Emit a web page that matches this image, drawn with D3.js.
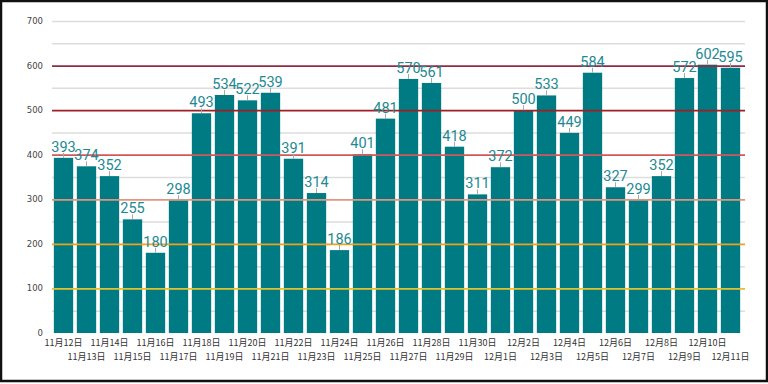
<!DOCTYPE html>
<html>
<head>
<meta charset="utf-8">
<script src="https://cdn.jsdelivr.net/npm/d3@7"></script>
<style>
  body { margin: 0; background: #fff; }
  svg { display: block; }
</style>
</head>
<body>
<script>
// daily counts, 11/12 - 12/11
var dates = ['11月12日','11月13日','11月14日','11月15日','11月16日','11月17日','11月18日','11月19日','11月20日','11月21日',
             '11月22日','11月23日','11月24日','11月25日','11月26日','11月27日','11月28日','11月29日','11月30日','12月1日',
             '12月2日','12月3日','12月4日','12月5日','12月6日','12月7日','12月8日','12月9日','12月10日','12月11日'];
var counts = [393, 374, 352, 255, 180, 298, 493, 534, 522, 539,
              391, 314, 186, 401, 481, 570, 561, 418, 311, 372,
              500, 533, 449, 584, 327, 299, 352, 572, 602, 595];
var yTicks = [0, 100, 200, 300, 400, 500, 600, 700];
var minorTicks = [50, 150, 250, 350, 450, 550, 650, 700];
// coloured reference lines
var refLines = [100, 200, 300, 400, 500, 600];
var refColors = ['#e3c22e', '#f0a21c', '#e3947e', '#d0585a', '#a01f24', '#8e2c45'];

var W = 768, H = 384;
var margin = { left: 52, right: 26, top: 21, bottom: 51 };

var svg = d3.select('body').append('svg').attr('width', W).attr('height', H);

var x = d3.scaleBand().domain(dates).range([margin.left, W - margin.right]).paddingInner(0.16).paddingOuter(0.08);
var y = d3.scaleLinear().domain([0, 700]).range([H - margin.bottom, margin.top]);

// light gridlines behind the bars
svg.append('g').selectAll('line').data(minorTicks).enter().append('line')
  .attr('x1', margin.left).attr('x2', W - 23)
  .attr('y1', function(d) { return y(d) + 0.5; })
  .attr('y2', function(d) { return y(d) + 0.5; })
  .attr('stroke', '#dddddd').attr('stroke-width', 1.5);

// bars
svg.append('g').selectAll('rect').data(counts).enter().append('rect')
  .attr('x', function(d, i) { return x(dates[i]); })
  .attr('width', x.bandwidth())
  .attr('y', function(d) { return y(d); })
  .attr('height', function(d) { return y(0) - y(d); })
  .attr('fill', '#007b84');

// coloured lines drawn over the bars
svg.append('g').selectAll('line').data(refLines).enter().append('line')
  .attr('x1', margin.left).attr('x2', W - 23)
  .attr('y1', function(d) { return y(d) + 0.5; })
  .attr('y2', function(d) { return y(d) + 0.5; })
  .attr('stroke', function(d, i) { return refColors[i]; }).attr('stroke-width', 1.8);

// value labels with small leader ticks
var lab = svg.append('g');
counts.forEach(function(d, i) {
  var cx = x(dates[i]) + x.bandwidth() / 2;
  lab.append('line')
    .attr('x1', cx).attr('x2', cx)
    .attr('y1', y(d) - 5).attr('y2', y(d))
    .attr('stroke', '#aaaaaa').attr('stroke-width', 1);
  lab.append('text')
    .attr('x', cx).attr('y', y(d) - 6)
    .attr('text-anchor', 'middle')
    .attr('font-family', 'Roboto, sans-serif')
    .attr('font-size', 14.5)
    .attr('fill', '#1d8a93')
    .text(d);
});

// y axis labels
svg.append('g').selectAll('text').data(yTicks).enter().append('text')
  .attr('x', 43).attr('y', function(d) { return y(d) + 3; })
  .attr('text-anchor', 'end')
  .attr('font-family', '"DejaVu Sans", sans-serif')
  .attr('font-size', 8.5)
  .attr('fill', '#444')
  .text(function(d) { return d; });

// x axis labels, two staggered rows
svg.append('g').selectAll('text').data(dates).enter().append('text')
  .attr('x', function(d) { return x(d) + x.bandwidth() / 2; })
  .attr('y', function(d, i) { return i % 2 === 0 ? 346 : 360; })
  .attr('text-anchor', 'middle')
  .attr('font-family', '"Noto Sans CJK JP", sans-serif')
  .attr('font-size', 9)
  .attr('fill', '#333')
  .text(function(d) { return d; });

// black frame round the picture
svg.append('rect')
  .attr('x', 1).attr('y', 1).attr('width', W - 2).attr('height', H - 4)
  .attr('fill', 'none').attr('stroke', '#111').attr('stroke-width', 2.5);
</script>
</body>
</html>
